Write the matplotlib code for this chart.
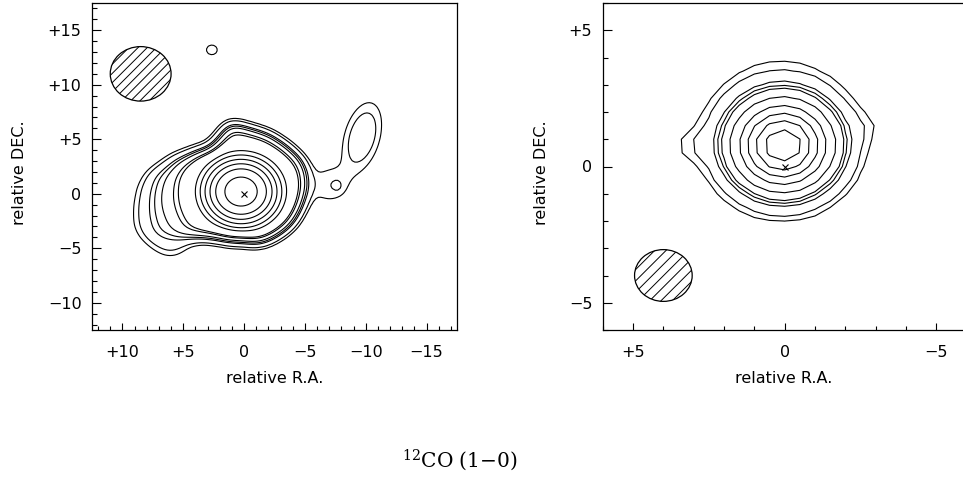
import numpy as np
import matplotlib
matplotlib.use("Agg")
import matplotlib.pyplot as plt
from matplotlib.patches import Ellipse
from matplotlib.lines import Line2D
from matplotlib.path import Path
from matplotlib.transforms import IdentityTransform
from matplotlib.ticker import MultipleLocator, FuncFormatter

# ---------------- data ----------------
title_text = r"$^{12}$CO (1$-$0)"
xlabel_text = "relative R.A."
ylabel_text = "relative DEC."

# ---- left map (wide field) ----
# compact core
L_core_amp, L_core_x, L_core_y, L_core_sig = 1.0, 0.25, 0.2, 1.7
# extended emission: shared top/right/bottom edge, plus four terraces toward +R.A.
L_shared_x = [2.0, 1.1, -0.3, -1.8, -3.4, -4.6, -5.0, -4.9, -4.6, -3.9, -2.8, -1.5, 0.9]
L_shared_y = [5.1, 6.4, 5.95, 5.45, 4.35, 3.15, 2.0, 0.0, -1.3, -2.6, -3.6, -4.4, -4.2]
L_step1_x = [2.2, 3.6, 4.5, 5.1, 5.5, 5.4, 4.8, 3.8, 2.5]
L_step1_y = [-3.9, -3.7, -3.2, -1.8, -0.2, 1.3, 2.6, 3.5, 3.95]
L_step2_x = [2.6, 4.2, 5.2, 6.0, 6.6, 6.6, 6.2, 5.3, 4.0, 2.6]
L_step2_y = [-3.9, -3.9, -3.7, -2.9, -1.2, 0.3, 1.6, 2.8, 3.6, 4.05]
L_step3_x = [3.0, 4.6, 5.6, 6.6, 7.5, 7.75, 7.75, 7.4, 6.6, 5.6, 4.1, 2.7]
L_step3_y = [-3.9, -4.0, -4.3, -4.3, -3.5, -2.2, 0.0, 1.6, 2.4, 3.2, 3.8, 4.15]
L_step4_x = [3.3, 4.5, 5.3, 6.3, 7.35, 8.4, 9.05, 9.0, 8.7, 8.1, 7.1, 6.0, 4.2, 2.8]
L_step4_y = [-4.0, -4.6, -5.55, -5.8, -5.1, -4.2, -2.95, -1.2, 0.5, 1.8, 2.6, 3.4, 4.0, 4.3]
L_step_level = 0.05
L_beam_sigma = 0.6
# points where successive contours cross the map
L_cross_x = [1.56, 2.32, 2.79, 3.2, 3.6, 4.0, 5.4, 5.8, 6.75, 7.3, 7.7, 8.5, 8.9]
L_cross_y = [0.0] * 13
# small features: blob, neck, neck knot, northern knot (peak as fractional contour index)
LF_level = [1.75, 0.85, 1.2, 0.6]
LF_x0 = [-9.7, -7.0, -7.7, 2.65]
LF_y0 = [5.2, 0.8, 0.7, 13.2]
LF_sx = [2.2, 1.2, 0.3, 0.5]
LF_sy = [1.0, 1.3, 0.4, 0.5]
LF_pa = [103.0, 0.0, 0.0, 0.0]
L_beam = (8.5, 11.0, 5.0)  # x, y, diameter
L_xlim = (12.5, -17.5)
L_ylim = (-12.5, 17.5)

# ---- right map (zoomed field) ----
R_amp = [1.0, 0.15]
R_x0 = [0.05, 0.2]
R_y0 = [0.75, 1.4]
R_sx = [1.2, 2.1]
R_sy = [1.2, 2.4]
R_pa = [0.0, 0.0]
R_cross_x = [0.58, 0.91, 1.19, 1.46, 1.79, 2.06, 2.18, 2.31, 2.67, 0.47]
R_cross_y = [0.55, 0.55, 0.55, 0.55, 0.55, 0.55, 0.55, 0.55, 0.55, -1.98]
RF_level = [0.35, 0.3]
RF_x0 = [3.25, -2.85]
RF_y0 = [0.75, 1.5]
RF_sx = [0.35, 0.45]
RF_sy = [0.5, 0.45]
RF_pa = [0.0, 0.0]
R_beam = (4.0, -4.0, 1.9)
R_xlim = (6.0, -6.0)
R_ylim = (-6.0, 6.0)


# ---------------- helpers ----------------
def gauss(X, Y, a, xc, yc, s1, s2, pa):
    th = np.deg2rad(pa)
    dx, dy = X - xc, Y - yc
    u = dx * np.cos(th) + dy * np.sin(th)
    v = -dx * np.sin(th) + dy * np.cos(th)
    return a * np.exp(-0.5 * ((u / s1) ** 2 + (v / s2) ** 2))


def interp2(gx, gy, Z, x, y):
    fx = (x - gx[0]) / (gx[1] - gx[0])
    fy = (y - gy[0]) / (gy[1] - gy[0])
    i, j = int(np.floor(fx)), int(np.floor(fy))
    tx, ty = fx - i, fy - j
    return (Z[j, i] * (1 - tx) * (1 - ty) + Z[j, i + 1] * tx * (1 - ty)
            + Z[j + 1, i] * (1 - tx) * ty + Z[j + 1, i + 1] * tx * ty)


def blur(S, gx, gy, sig):
    Kx = np.exp(-0.5 * ((gx[:, None] - gx[None, :]) / sig) ** 2)
    Ky = np.exp(-0.5 * ((gy[:, None] - gy[None, :]) / sig) ** 2)
    Kx /= Kx.sum(1, keepdims=True)
    Ky /= Ky.sum(1, keepdims=True)
    return Ky @ S @ Kx.T


def mask(GX, GY, px, py):
    p = Path(np.column_stack([px, py]))
    return p.contains_points(np.column_stack([GX.ravel(), GY.ravel()])).reshape(GX.shape).astype(float)


def finish(gx, gy, GX, GY, Z, cross_x, cross_y, feats):
    levels = np.sort([interp2(gx, gy, Z, x, y) for x, y in zip(cross_x, cross_y)])
    Z = Z.copy()
    for t, xc, yc, s1, s2, pa in zip(*feats):
        i = min(int(np.floor(t)), len(levels) - 2)
        target = levels[i] + (t - i) * (levels[i + 1] - levels[i])
        g = gauss(GX, GY, 1.0, xc, yc, s1, s2, pa)
        cur = interp2(gx, gy, Z, xc, yc)
        Z = Z + (target - cur) / interp2(gx, gy, g, xc, yc) * g
    return Z, levels


def fmt(v, pos):
    v = int(round(v))
    if v > 0:
        return "+%d" % v
    if v < 0:
        return "\u2212%d" % (-v)
    return "0"


W, H = 963, 478
fig = plt.figure(figsize=(W / 100, H / 100), dpi=100)


def px_box(l, t, r, b):
    return [l / W, 1 - b / H, (r - l) / W, (b - t) / H]


def style(ax, xlim, ylim):
    ax.set_xlim(*xlim)
    ax.set_ylim(*ylim)
    for s in ax.spines.values():
        s.set_linewidth(0.9)
    ax.xaxis.set_major_locator(MultipleLocator(5))
    ax.xaxis.set_minor_locator(MultipleLocator(1))
    ax.yaxis.set_major_locator(MultipleLocator(5))
    ax.yaxis.set_minor_locator(MultipleLocator(1))
    ax.xaxis.set_major_formatter(FuncFormatter(fmt))
    ax.yaxis.set_major_formatter(FuncFormatter(fmt))
    ax.tick_params(which="both", direction="in", top=False, right=False, width=0.8,
                   labelsize=11.5)
    ax.tick_params(axis="y", which="major", length=6.8, pad=7.5)
    ax.tick_params(axis="y", which="minor", length=3.4)
    ax.tick_params(axis="x", which="major", length=5.0, pad=11)
    ax.tick_params(axis="x", which="minor", length=3.0)


def beam(ax, bx, by, d, spacing):
    e = Ellipse((bx, by), d, d, fill=False, edgecolor="k", lw=0.9, zorder=3)
    ax.add_patch(e)
    cx, cy = ax.transData.transform((bx, by))
    ex = abs(ax.transData.transform((bx + d / 2, by))[0] - cx)
    ey = abs(ax.transData.transform((bx, by + d / 2))[1] - cy)
    R = max(ex, ey) + 3
    s2 = np.sqrt(0.5)
    for k in np.arange(-R, R + 0.01, spacing):
        ox, oy = cx + k * s2, cy - k * s2
        ln = Line2D([ox - R * s2, ox + R * s2], [oy - R * s2, oy + R * s2],
                    transform=IdentityTransform(), color="k", lw=0.7)
        ln.set_clip_path(e)
        ax.add_artist(ln)


# ---------------- left panel ----------------
axL = fig.add_axes(px_box(92, 3, 457, 330))
style(axL, L_xlim, L_ylim)
gx = np.arange(-17.5, 12.51, 0.2)
gy = np.arange(-12.5, 17.51, 0.2)
GX, GY = np.meshgrid(gx, gy)
sky = np.zeros_like(GX)
for sx_, sy_ in ((L_step1_x, L_step1_y), (L_step2_x, L_step2_y),
                 (L_step3_x, L_step3_y), (L_step4_x, L_step4_y)):
    sky += L_step_level * mask(GX, GY, L_shared_x + sx_, L_shared_y + sy_)
ZL = blur(sky, gx, gy, L_beam_sigma) + gauss(GX, GY, L_core_amp, L_core_x, L_core_y,
                                              L_core_sig, L_core_sig, 0.0)
ZL, levL = finish(gx, gy, GX, GY, ZL, L_cross_x, L_cross_y,
                  (LF_level, LF_x0, LF_y0, LF_sx, LF_sy, LF_pa))
axL.contour(GX, GY, ZL, levels=levL, colors="k", linewidths=0.8)
axL.plot([0], [0], marker="x", color="k", ms=5, mew=0.8)
beam(axL, *L_beam, spacing=6.5)

# ---------------- right panel ----------------
axR = fig.add_axes(px_box(602.7, 3, 966.7, 330))
style(axR, R_xlim, R_ylim)
hx = np.arange(-6.0, 6.01, 0.5)
HX, HY = np.meshgrid(hx, hx)
ZR = sum(gauss(HX, HY, a, xc, yc, s1, s2, pa)
         for a, xc, yc, s1, s2, pa in zip(R_amp, R_x0, R_y0, R_sx, R_sy, R_pa))
ZR, levR = finish(hx, hx, HX, HY, ZR, R_cross_x, R_cross_y,
                  (RF_level, RF_x0, RF_y0, RF_sx, RF_sy, RF_pa))
axR.contour(HX, HY, ZR, levels=levR, colors="k", linewidths=0.8)
axR.plot([0], [0], marker="x", color="k", ms=5, mew=0.8)
beam(axR, *R_beam, spacing=8.0)

# ---------------- labels ----------------
for xc in (274.5, 784.0):
    fig.text(xc / W, 1 - 383 / H, xlabel_text, ha="center", va="baseline", fontsize=11.5)
for xc in (19.0, 541.0):
    fig.text(xc / W, 1 - 173 / H, ylabel_text, ha="center", va="center", rotation=90,
             fontsize=11.5)
fig.text(460 / W, 1 - 467 / H, title_text, ha="center", va="baseline", fontsize=14.5,
         family="DejaVu Serif", math_fontfamily="dejavuserif")

fig.savefig("out.png", dpi=100)
